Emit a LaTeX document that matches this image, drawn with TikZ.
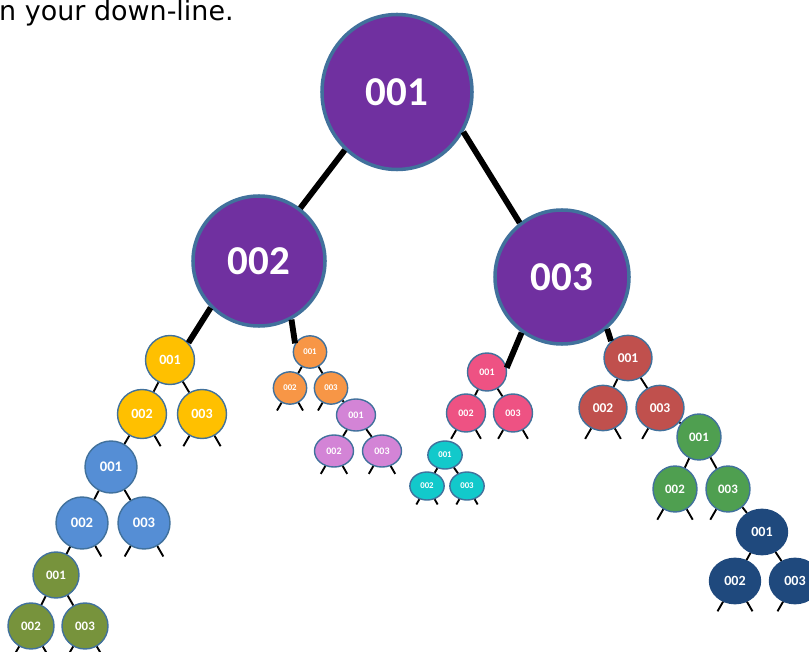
\documentclass[tikz,border=0pt]{standalone}
\usepackage{fontspec}
\setmainfont{Carlito}
\newfontfamily\notefont{DejaVu Sans}
\usetikzlibrary{shapes.geometric}
\definecolor{royal}{HTML}{7030A0}
\definecolor{rim}{HTML}{41719C}
\definecolor{gold}{HTML}{FFC000}
\definecolor{tangerine}{HTML}{F79646}
\definecolor{sky}{HTML}{558ED5}
\definecolor{moss}{HTML}{77933C}
\definecolor{orchidc}{HTML}{D384D6}
\definecolor{rose}{HTML}{EE5283}
\definecolor{aqua}{HTML}{12C9CB}
\definecolor{brick}{HTML}{C0504D}
\definecolor{fern}{HTML}{4F9F50}
\definecolor{navyc}{HTML}{1F497D}
\tikzset{%
    member/.style = {
        ellipse, draw=rim, line width=1.2pt, text=white, inner sep=0pt
    },
    founder/.style = {member, fill=royal, line width=3pt,
        font=\bfseries\fontsize{35}{35}\selectfont},
    goldm/.style = {member, fill=gold, minimum width=1.47cm,
        minimum height=1.47cm, font=\bfseries\fontsize{12}{12}\selectfont},
    skym/.style = {member, fill=sky, minimum width=1.56cm,
        minimum height=1.56cm, font=\bfseries\fontsize{12.5}{12.5}\selectfont},
    mossm/.style = {member, fill=moss, minimum width=1.38cm,
        minimum height=1.38cm, font=\bfseries\fontsize{11}{11}\selectfont},
    tangm/.style = {member, fill=tangerine, minimum width=1cm,
        minimum height=0.97cm, font=\bfseries\fontsize{7.5}{7.5}\selectfont},
    orchm/.style = {member, fill=orchidc, minimum width=1.17cm,
        minimum height=0.96cm, font=\bfseries\fontsize{8.5}{8.5}\selectfont},
    rosem/.style = {member, fill=rose, minimum width=1.17cm,
        minimum height=1.14cm, font=\bfseries\fontsize{8.5}{8.5}\selectfont},
    aquam/.style = {member, fill=aqua, minimum width=1.03cm,
        minimum height=0.84cm, font=\bfseries\fontsize{7.5}{7.5}\selectfont},
    brickm/.style = {member, fill=brick, minimum width=1.44cm,
        minimum height=1.36cm, font=\bfseries\fontsize{11.5}{11.5}\selectfont},
    fernm/.style = {member, fill=fern, minimum width=1.32cm,
        minimum height=1.38cm, font=\bfseries\fontsize{11}{11}\selectfont},
    navym/.style = {member, fill=navyc, draw=navyc, minimum width=1.53cm,
        minimum height=1.36cm, font=\bfseries\fontsize{12}{12}\selectfont},
    link/.style = {line width=5pt},
    twig/.style = {line width=1.6pt},
}
\begin{document}
\begin{tikzpicture}[x=0.03cm, y=-0.03cm]
    \useasboundingbox (0,0) rectangle (809,652);
    \node (caption) [anchor=base west, inner sep=0pt,
        font=\notefont\fontsize{23}{23}\selectfont] at (-1,21) {n your down-line.};

    % Top of the line
    \node (t1) [founder, minimum width=4.5cm, minimum height=4.65cm] at (397,92) {001};
    \node (t2) [founder, minimum width=3.96cm, minimum height=3.9cm] at (259,261) {002};
    \node (t3) [founder, minimum width=4.02cm, minimum height=4.02cm] at (562,277) {003};

    % Left branch
    \node (y1) [goldm] at (170,360) {001};
    \node (y2) [goldm] at (142,414) {002};
    \node (y3) [goldm] at (202,414) {003};
    \node (b1) [skym] at (111,467) {001};
    \node (b2) [skym] at (82,523) {002};
    \node (b3) [skym] at (144,523) {003};
    \node (v1) [mossm] at (56,575) {001};
    \node (v2) [mossm] at (31,626) {002};
    \node (v3) [mossm] at (85,626) {003};

    \node (o1) [tangm] at (310,352) {001};
    \node (o2) [tangm] at (290,388) {002};
    \node (o3) [tangm] at (331,388) {003};
    \node (m1) [orchm] at (356,415) {001};
    \node (m2) [orchm] at (334,451) {002};
    \node (m3) [orchm] at (382,451) {003};

    % Right branch
    \node (k1) [rosem] at (487,372) {001};
    \node (k2) [rosem] at (466,413) {002};
    \node (k3) [rosem] at (513,413) {003};
    \node (c1) [aquam] at (445,455) {001};
    \node (c2) [aquam] at (427,486) {002};
    \node (c3) [aquam] at (467,486) {003};

    \node (r1) [brickm] at (628,358) {001};
    \node (r2) [brickm] at (603,408) {002};
    \node (r3) [brickm] at (660,408) {003};
    \node (g1) [fernm] at (699,437) {001};
    \node (g2) [fernm] at (675,489) {002};
    \node (g3) [fernm] at (728,489) {003};
    \node (n1) [navym] at (762,532) {001};
    \node (n2) [navym] at (735,581) {002};
    \node (n3) [navym] at (795,581) {003};

    % Thick links
    \draw[link] (t1.-132) -- (t2.52);
    \draw[link] (t1.-31) -- (t3.128);
    \draw[link] (t2.-136) -- (y1.43);
    \draw[link] (t2.-61) -- (o1.150);
    \draw[link] (t3.-126) -- (k1.12);
    \draw[link] (t3.-49) -- (r1.135);

    % Thin links
    \foreach \a/\b in {y1/y2, y1/y3, y2/b1, b1/b2, b1/b3, b2/v1, v1/v2, v1/v3,
        o1/o2, o1/o3, o3/m1, m1/m2, m1/m3, k1/k2, k1/k3, c1/c2, c1/c3,
        r1/r2, r1/r3, r3/g1, g1/g2, g1/g3, g3/n1, n1/n2, n1/n3}
        \draw[twig] (\a) -- (\b);

    % Open ends
    \foreach \n/\l in {y3/12, b3/12, v2/12, v3/12, o2/9, o3/9, m2/9, m3/9,
        k2/10, k3/10, c2/6, c3/6, r2/12, r3/12, g2/12, g3/12, n2/11, n3/11}
        \draw[twig] (\n.-120) -- ++(-120:\l*0.03cm);
    \foreach \n/\l in {y2/12, y3/12, b2/12, b3/12, v2/12, v3/12, o2/9, m2/9,
        m3/9, k2/10, k3/10, c2/6, c3/6, r2/12, g2/12, n2/11}
        \draw[twig] (\n.-60) -- ++(-60:\l*0.03cm);
\end{tikzpicture}
\end{document}
